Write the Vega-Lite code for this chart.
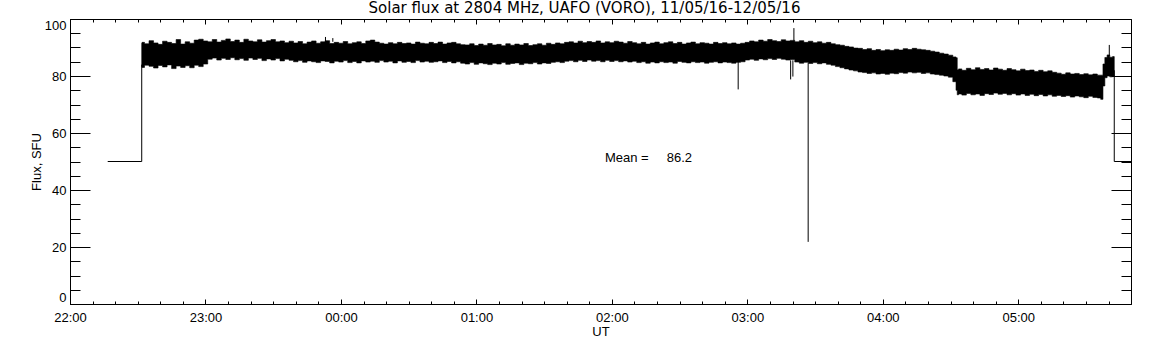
{
  "$schema": "https://vega.github.io/schema/vega-lite/v6.json",
  "width": 1061,
  "height": 285,
  "autosize": {"type": "none"},
  "padding": {"left": 70, "top": 19, "right": 21, "bottom": 41},
  "background": "white",
  "title": {"text": "Solar flux at 2804 MHz, UAFO (VORO),  11/05/16-12/05/16", "font": "DejaVu Sans", "fontSize": 15, "fontWeight": "normal", "color": "black", "baseline": "alphabetic", "offset": 5, "frame": "group", "dx": -16, "dy": 14.5},
  "config": {
    "view": {"stroke": "black", "strokeWidth": 1},
    "axis": {"domain": false, "grid": false, "tickColor": "black", "tickWidth": 1, "labelColor": "black", "titleColor": "black", "labelFont": "Liberation Sans", "labelFontSize": 13, "titleFont": "Liberation Sans", "titleFontSize": 13, "titleFontWeight": "normal", "labelOverlap": false}
  },
  "datasets": {
    "band": [
      {"t":"2016-05-11T22:31:46Z","hi":91.5,"lo":83.2},
      {"t":"2016-05-11T22:32:00Z","hi":91.8,"lo":83.0},
      {"t":"2016-05-11T22:34:00Z","hi":91.3,"lo":83.8},
      {"t":"2016-05-11T22:36:00Z","hi":92.4,"lo":83.4},
      {"t":"2016-05-11T22:38:00Z","hi":91.6,"lo":82.8},
      {"t":"2016-05-11T22:40:00Z","hi":91.1,"lo":83.7},
      {"t":"2016-05-11T22:42:00Z","hi":92.2,"lo":83.2},
      {"t":"2016-05-11T22:44:00Z","hi":91.8,"lo":83.9},
      {"t":"2016-05-11T22:46:00Z","hi":91.4,"lo":82.6},
      {"t":"2016-05-11T22:48:00Z","hi":92.8,"lo":83.5},
      {"t":"2016-05-11T22:50:00Z","hi":91.2,"lo":83.0},
      {"t":"2016-05-11T22:52:00Z","hi":92.0,"lo":83.6},
      {"t":"2016-05-11T22:54:00Z","hi":91.5,"lo":82.9},
      {"t":"2016-05-11T22:56:00Z","hi":92.6,"lo":83.8},
      {"t":"2016-05-11T22:58:00Z","hi":92.9,"lo":83.3},
      {"t":"2016-05-11T23:00:00Z","hi":92.3,"lo":84.2},
      {"t":"2016-05-11T23:02:00Z","hi":92.0,"lo":85.9},
      {"t":"2016-05-11T23:04:00Z","hi":92.8,"lo":86.3},
      {"t":"2016-05-11T23:06:00Z","hi":91.9,"lo":85.6},
      {"t":"2016-05-11T23:08:00Z","hi":92.5,"lo":86.2},
      {"t":"2016-05-11T23:10:00Z","hi":93.0,"lo":85.8},
      {"t":"2016-05-11T23:12:00Z","hi":92.1,"lo":86.4},
      {"t":"2016-05-11T23:14:00Z","hi":92.6,"lo":85.7},
      {"t":"2016-05-11T23:16:00Z","hi":91.8,"lo":86.1},
      {"t":"2016-05-11T23:18:00Z","hi":92.9,"lo":85.5},
      {"t":"2016-05-11T23:20:00Z","hi":92.3,"lo":86.3},
      {"t":"2016-05-11T23:22:00Z","hi":92.0,"lo":85.8},
      {"t":"2016-05-11T23:24:00Z","hi":92.7,"lo":86.2},
      {"t":"2016-05-11T23:26:00Z","hi":91.9,"lo":85.4},
      {"t":"2016-05-11T23:28:00Z","hi":92.4,"lo":86.0},
      {"t":"2016-05-11T23:30:00Z","hi":92.8,"lo":85.6},
      {"t":"2016-05-11T23:32:00Z","hi":92.0,"lo":86.1},
      {"t":"2016-05-11T23:34:00Z","hi":92.3,"lo":85.3},
      {"t":"2016-05-11T23:36:00Z","hi":91.7,"lo":85.9},
      {"t":"2016-05-11T23:38:00Z","hi":92.2,"lo":85.5},
      {"t":"2016-05-11T23:40:00Z","hi":91.6,"lo":85.0},
      {"t":"2016-05-11T23:42:00Z","hi":92.1,"lo":85.4},
      {"t":"2016-05-11T23:44:00Z","hi":91.3,"lo":84.8},
      {"t":"2016-05-11T23:46:00Z","hi":91.9,"lo":85.3},
      {"t":"2016-05-11T23:48:00Z","hi":92.3,"lo":85.0},
      {"t":"2016-05-11T23:50:00Z","hi":91.5,"lo":84.7},
      {"t":"2016-05-11T23:52:00Z","hi":92.0,"lo":85.3},
      {"t":"2016-05-11T23:54:00Z","hi":92.4,"lo":85.1},
      {"t":"2016-05-11T23:56:00Z","hi":91.4,"lo":84.6},
      {"t":"2016-05-11T23:58:00Z","hi":91.8,"lo":85.2},
      {"t":"2016-05-12T00:00:00Z","hi":91.5,"lo":84.9},
      {"t":"2016-05-12T00:02:00Z","hi":92.1,"lo":85.4},
      {"t":"2016-05-12T00:04:00Z","hi":91.3,"lo":84.7},
      {"t":"2016-05-12T00:06:00Z","hi":91.7,"lo":85.1},
      {"t":"2016-05-12T00:08:00Z","hi":92.0,"lo":84.6},
      {"t":"2016-05-12T00:10:00Z","hi":91.4,"lo":85.3},
      {"t":"2016-05-12T00:12:00Z","hi":92.3,"lo":84.9},
      {"t":"2016-05-12T00:14:00Z","hi":92.6,"lo":85.2},
      {"t":"2016-05-12T00:16:00Z","hi":91.9,"lo":84.8},
      {"t":"2016-05-12T00:18:00Z","hi":91.5,"lo":85.4},
      {"t":"2016-05-12T00:20:00Z","hi":91.2,"lo":84.9},
      {"t":"2016-05-12T00:22:00Z","hi":91.7,"lo":85.2},
      {"t":"2016-05-12T00:24:00Z","hi":91.3,"lo":84.6},
      {"t":"2016-05-12T00:26:00Z","hi":91.8,"lo":85.3},
      {"t":"2016-05-12T00:28:00Z","hi":91.4,"lo":84.8},
      {"t":"2016-05-12T00:30:00Z","hi":91.6,"lo":85.1},
      {"t":"2016-05-12T00:32:00Z","hi":91.2,"lo":84.7},
      {"t":"2016-05-12T00:34:00Z","hi":91.9,"lo":85.4},
      {"t":"2016-05-12T00:36:00Z","hi":91.5,"lo":84.9},
      {"t":"2016-05-12T00:38:00Z","hi":91.3,"lo":85.2},
      {"t":"2016-05-12T00:40:00Z","hi":91.8,"lo":84.8},
      {"t":"2016-05-12T00:42:00Z","hi":91.4,"lo":85.0},
      {"t":"2016-05-12T00:44:00Z","hi":91.9,"lo":85.3},
      {"t":"2016-05-12T00:46:00Z","hi":91.2,"lo":84.7},
      {"t":"2016-05-12T00:48:00Z","hi":91.6,"lo":85.1},
      {"t":"2016-05-12T00:50:00Z","hi":91.8,"lo":84.6},
      {"t":"2016-05-12T00:52:00Z","hi":91.3,"lo":85.0},
      {"t":"2016-05-12T00:54:00Z","hi":91.0,"lo":84.5},
      {"t":"2016-05-12T00:56:00Z","hi":90.9,"lo":84.2},
      {"t":"2016-05-12T00:58:00Z","hi":91.3,"lo":84.7},
      {"t":"2016-05-12T01:00:00Z","hi":90.7,"lo":84.1},
      {"t":"2016-05-12T01:02:00Z","hi":91.2,"lo":84.6},
      {"t":"2016-05-12T01:04:00Z","hi":90.8,"lo":84.3},
      {"t":"2016-05-12T01:06:00Z","hi":91.4,"lo":84.0},
      {"t":"2016-05-12T01:08:00Z","hi":90.9,"lo":84.5},
      {"t":"2016-05-12T01:10:00Z","hi":91.1,"lo":84.2},
      {"t":"2016-05-12T01:12:00Z","hi":90.6,"lo":84.7},
      {"t":"2016-05-12T01:14:00Z","hi":91.3,"lo":84.1},
      {"t":"2016-05-12T01:16:00Z","hi":90.8,"lo":84.4},
      {"t":"2016-05-12T01:18:00Z","hi":91.2,"lo":84.6},
      {"t":"2016-05-12T01:20:00Z","hi":90.9,"lo":84.0},
      {"t":"2016-05-12T01:22:00Z","hi":91.4,"lo":84.5},
      {"t":"2016-05-12T01:24:00Z","hi":90.7,"lo":84.3},
      {"t":"2016-05-12T01:26:00Z","hi":91.0,"lo":84.7},
      {"t":"2016-05-12T01:28:00Z","hi":91.3,"lo":84.2},
      {"t":"2016-05-12T01:30:00Z","hi":90.8,"lo":84.6},
      {"t":"2016-05-12T01:32:00Z","hi":91.5,"lo":84.4},
      {"t":"2016-05-12T01:34:00Z","hi":91.1,"lo":84.8},
      {"t":"2016-05-12T01:36:00Z","hi":91.6,"lo":85.0},
      {"t":"2016-05-12T01:38:00Z","hi":91.3,"lo":84.7},
      {"t":"2016-05-12T01:40:00Z","hi":91.8,"lo":85.2},
      {"t":"2016-05-12T01:42:00Z","hi":92.0,"lo":85.4},
      {"t":"2016-05-12T01:44:00Z","hi":91.6,"lo":85.0},
      {"t":"2016-05-12T01:46:00Z","hi":92.2,"lo":85.5},
      {"t":"2016-05-12T01:48:00Z","hi":91.7,"lo":85.1},
      {"t":"2016-05-12T01:50:00Z","hi":92.1,"lo":85.6},
      {"t":"2016-05-12T01:52:00Z","hi":91.8,"lo":85.2},
      {"t":"2016-05-12T01:54:00Z","hi":92.3,"lo":85.4},
      {"t":"2016-05-12T01:56:00Z","hi":91.6,"lo":85.0},
      {"t":"2016-05-12T01:58:00Z","hi":92.0,"lo":85.5},
      {"t":"2016-05-12T02:00:00Z","hi":91.7,"lo":85.1},
      {"t":"2016-05-12T02:02:00Z","hi":92.2,"lo":85.4},
      {"t":"2016-05-12T02:04:00Z","hi":91.9,"lo":85.0},
      {"t":"2016-05-12T02:06:00Z","hi":91.5,"lo":85.3},
      {"t":"2016-05-12T02:08:00Z","hi":92.1,"lo":84.9},
      {"t":"2016-05-12T02:10:00Z","hi":91.7,"lo":85.2},
      {"t":"2016-05-12T02:12:00Z","hi":91.3,"lo":84.7},
      {"t":"2016-05-12T02:14:00Z","hi":91.8,"lo":85.0},
      {"t":"2016-05-12T02:16:00Z","hi":91.2,"lo":84.5},
      {"t":"2016-05-12T02:18:00Z","hi":91.6,"lo":84.9},
      {"t":"2016-05-12T02:20:00Z","hi":91.9,"lo":84.6},
      {"t":"2016-05-12T02:22:00Z","hi":91.3,"lo":85.0},
      {"t":"2016-05-12T02:24:00Z","hi":91.7,"lo":84.7},
      {"t":"2016-05-12T02:26:00Z","hi":92.0,"lo":84.9},
      {"t":"2016-05-12T02:28:00Z","hi":91.4,"lo":84.5},
      {"t":"2016-05-12T02:30:00Z","hi":91.8,"lo":85.1},
      {"t":"2016-05-12T02:32:00Z","hi":91.2,"lo":84.8},
      {"t":"2016-05-12T02:34:00Z","hi":91.6,"lo":84.6},
      {"t":"2016-05-12T02:36:00Z","hi":91.9,"lo":85.0},
      {"t":"2016-05-12T02:38:00Z","hi":91.3,"lo":84.7},
      {"t":"2016-05-12T02:40:00Z","hi":91.7,"lo":84.9},
      {"t":"2016-05-12T02:42:00Z","hi":91.5,"lo":84.5},
      {"t":"2016-05-12T02:44:00Z","hi":91.2,"lo":84.8},
      {"t":"2016-05-12T02:46:00Z","hi":91.8,"lo":85.0},
      {"t":"2016-05-12T02:48:00Z","hi":91.4,"lo":84.6},
      {"t":"2016-05-12T02:50:00Z","hi":91.7,"lo":84.9},
      {"t":"2016-05-12T02:52:00Z","hi":91.3,"lo":84.7},
      {"t":"2016-05-12T02:54:00Z","hi":91.6,"lo":84.5},
      {"t":"2016-05-12T02:56:00Z","hi":91.2,"lo":84.8},
      {"t":"2016-05-12T02:58:00Z","hi":91.5,"lo":85.0},
      {"t":"2016-05-12T03:00:00Z","hi":91.8,"lo":85.6},
      {"t":"2016-05-12T03:02:00Z","hi":92.3,"lo":85.9},
      {"t":"2016-05-12T03:04:00Z","hi":92.0,"lo":85.5},
      {"t":"2016-05-12T03:06:00Z","hi":92.6,"lo":86.0},
      {"t":"2016-05-12T03:08:00Z","hi":92.2,"lo":85.7},
      {"t":"2016-05-12T03:10:00Z","hi":92.8,"lo":86.1},
      {"t":"2016-05-12T03:12:00Z","hi":92.4,"lo":85.8},
      {"t":"2016-05-12T03:14:00Z","hi":92.1,"lo":86.2},
      {"t":"2016-05-12T03:16:00Z","hi":92.7,"lo":85.9},
      {"t":"2016-05-12T03:18:00Z","hi":92.3,"lo":85.6},
      {"t":"2016-05-12T03:20:00Z","hi":92.5,"lo":85.8},
      {"t":"2016-05-12T03:22:00Z","hi":92.0,"lo":84.9},
      {"t":"2016-05-12T03:24:00Z","hi":92.4,"lo":84.5},
      {"t":"2016-05-12T03:26:00Z","hi":91.8,"lo":84.8},
      {"t":"2016-05-12T03:28:00Z","hi":92.2,"lo":84.4},
      {"t":"2016-05-12T03:30:00Z","hi":91.7,"lo":84.7},
      {"t":"2016-05-12T03:32:00Z","hi":92.0,"lo":84.3},
      {"t":"2016-05-12T03:34:00Z","hi":91.5,"lo":84.6},
      {"t":"2016-05-12T03:36:00Z","hi":91.8,"lo":84.1},
      {"t":"2016-05-12T03:38:00Z","hi":91.3,"lo":83.8},
      {"t":"2016-05-12T03:40:00Z","hi":91.0,"lo":83.3},
      {"t":"2016-05-12T03:42:00Z","hi":90.8,"lo":82.9},
      {"t":"2016-05-12T03:44:00Z","hi":90.4,"lo":82.5},
      {"t":"2016-05-12T03:46:00Z","hi":90.2,"lo":82.1},
      {"t":"2016-05-12T03:48:00Z","hi":89.8,"lo":81.8},
      {"t":"2016-05-12T03:50:00Z","hi":89.7,"lo":81.4},
      {"t":"2016-05-12T03:52:00Z","hi":89.3,"lo":81.2},
      {"t":"2016-05-12T03:54:00Z","hi":89.6,"lo":80.9},
      {"t":"2016-05-12T03:56:00Z","hi":89.0,"lo":81.1},
      {"t":"2016-05-12T03:58:00Z","hi":89.3,"lo":80.7},
      {"t":"2016-05-12T04:00:00Z","hi":88.9,"lo":80.9},
      {"t":"2016-05-12T04:02:00Z","hi":89.2,"lo":80.6},
      {"t":"2016-05-12T04:04:00Z","hi":89.0,"lo":81.0},
      {"t":"2016-05-12T04:06:00Z","hi":89.4,"lo":80.8},
      {"t":"2016-05-12T04:08:00Z","hi":89.1,"lo":81.2},
      {"t":"2016-05-12T04:10:00Z","hi":89.6,"lo":81.0},
      {"t":"2016-05-12T04:12:00Z","hi":89.3,"lo":81.4},
      {"t":"2016-05-12T04:14:00Z","hi":89.7,"lo":81.1},
      {"t":"2016-05-12T04:16:00Z","hi":89.4,"lo":81.3},
      {"t":"2016-05-12T04:18:00Z","hi":89.2,"lo":80.9},
      {"t":"2016-05-12T04:20:00Z","hi":89.0,"lo":81.1},
      {"t":"2016-05-12T04:22:00Z","hi":88.7,"lo":80.7},
      {"t":"2016-05-12T04:24:00Z","hi":88.4,"lo":80.5},
      {"t":"2016-05-12T04:26:00Z","hi":88.0,"lo":80.3},
      {"t":"2016-05-12T04:28:00Z","hi":87.7,"lo":80.0},
      {"t":"2016-05-12T04:30:00Z","hi":87.3,"lo":79.6},
      {"t":"2016-05-12T04:32:00Z","hi":86.7,"lo":78.0},
      {"t":"2016-05-12T04:32:50Z","hi":86.4,"lo":75.0},
      {"t":"2016-05-12T04:33:05Z","hi":82.2,"lo":73.4},
      {"t":"2016-05-12T04:34:00Z","hi":82.5,"lo":73.7},
      {"t":"2016-05-12T04:36:00Z","hi":82.0,"lo":73.3},
      {"t":"2016-05-12T04:38:00Z","hi":82.7,"lo":73.9},
      {"t":"2016-05-12T04:40:00Z","hi":82.2,"lo":73.4},
      {"t":"2016-05-12T04:42:00Z","hi":82.9,"lo":73.7},
      {"t":"2016-05-12T04:44:00Z","hi":82.3,"lo":73.2},
      {"t":"2016-05-12T04:46:00Z","hi":82.6,"lo":73.8},
      {"t":"2016-05-12T04:48:00Z","hi":82.1,"lo":73.5},
      {"t":"2016-05-12T04:50:00Z","hi":82.8,"lo":74.0},
      {"t":"2016-05-12T04:52:00Z","hi":82.4,"lo":73.6},
      {"t":"2016-05-12T04:54:00Z","hi":82.0,"lo":73.9},
      {"t":"2016-05-12T04:56:00Z","hi":82.6,"lo":73.4},
      {"t":"2016-05-12T04:58:00Z","hi":82.2,"lo":73.8},
      {"t":"2016-05-12T05:00:00Z","hi":81.8,"lo":73.3},
      {"t":"2016-05-12T05:02:00Z","hi":82.4,"lo":73.7},
      {"t":"2016-05-12T05:04:00Z","hi":81.9,"lo":73.2},
      {"t":"2016-05-12T05:06:00Z","hi":82.1,"lo":73.6},
      {"t":"2016-05-12T05:08:00Z","hi":81.6,"lo":73.1},
      {"t":"2016-05-12T05:10:00Z","hi":82.0,"lo":73.5},
      {"t":"2016-05-12T05:12:00Z","hi":81.5,"lo":73.0},
      {"t":"2016-05-12T05:14:00Z","hi":81.8,"lo":73.4},
      {"t":"2016-05-12T05:16:00Z","hi":81.3,"lo":72.9},
      {"t":"2016-05-12T05:18:00Z","hi":81.0,"lo":73.2},
      {"t":"2016-05-12T05:20:00Z","hi":80.6,"lo":72.8},
      {"t":"2016-05-12T05:22:00Z","hi":81.1,"lo":73.1},
      {"t":"2016-05-12T05:24:00Z","hi":80.7,"lo":72.6},
      {"t":"2016-05-12T05:26:00Z","hi":80.9,"lo":73.0},
      {"t":"2016-05-12T05:28:00Z","hi":80.5,"lo":72.7},
      {"t":"2016-05-12T05:30:00Z","hi":80.8,"lo":72.4},
      {"t":"2016-05-12T05:32:00Z","hi":80.4,"lo":72.9},
      {"t":"2016-05-12T05:34:00Z","hi":80.7,"lo":72.5},
      {"t":"2016-05-12T05:36:00Z","hi":80.3,"lo":72.3},
      {"t":"2016-05-12T05:37:00Z","hi":80.3,"lo":71.8},
      {"t":"2016-05-12T05:38:00Z","hi":84.2,"lo":76.5},
      {"t":"2016-05-12T05:38:40Z","hi":86.5,"lo":79.4},
      {"t":"2016-05-12T05:40:00Z","hi":87.4,"lo":80.0},
      {"t":"2016-05-12T05:41:00Z","hi":86.6,"lo":79.7},
      {"t":"2016-05-12T05:42:30Z","hi":86.8,"lo":80.0}
    ],
    "trace": [
      {"seg":"a","i":0,"t":"2016-05-11T22:16:42Z","v":50},
      {"seg":"a","i":1,"t":"2016-05-11T22:31:46Z","v":50},
      {"seg":"a","i":2,"t":"2016-05-11T22:31:46Z","v":84},
      {"seg":"b","i":0,"t":"2016-05-12T05:42:30Z","v":82},
      {"seg":"b","i":1,"t":"2016-05-12T05:42:30Z","v":50},
      {"seg":"b","i":2,"t":"2016-05-12T05:49:55Z","v":50}
    ],
    "spikes": [
      {"t":"2016-05-11T23:53:09Z","a":92,"b":93.7},
      {"t":"2016-05-11T23:56:24Z","a":92,"b":93.3},
      {"t":"2016-05-12T02:55:56Z","a":85,"b":75.3},
      {"t":"2016-05-12T03:19:10Z","a":85.5,"b":78.8},
      {"t":"2016-05-12T03:20:10Z","a":85.5,"b":79.8},
      {"t":"2016-05-12T03:20:37Z","a":92,"b":96.8},
      {"t":"2016-05-12T03:26:56Z","a":84.5,"b":21.8},
      {"t":"2016-05-12T05:40:18Z","a":87,"b":90.9}
    ],
    "note": [
      {"t":"2016-05-12T01:56:54Z","v":51.2,"label":"Mean =\u00a0\u00a0\u00a0\u00a0\u00a086.2"}
    ]
  },
  "resolve": {"axis": {"x": "independent", "y": "independent"}},
  "layer": [
    {
      "data": {"name": "band"},
      "mark": {"type": "area", "interpolate": "step", "color": "black", "stroke": "black", "strokeWidth": 0.6},
      "encoding": {
        "x": {"field": "t", "type": "temporal",
          "scale": {"type": "utc", "domain": [1463004000000, 1463032195000]},
          "axis": {"orient": "bottom", "values": [1463004000000, 1463007600000, 1463011200000, 1463014800000, 1463018400000, 1463022000000, 1463025600000, 1463029200000], "labelExpr": "utcFormat(datum.value, '%H:%M')", "offset": -5, "tickSize": 5, "labelPadding": 7, "labelFlush": false, "title": "UT", "titlePadding": 1}},
        "y": {"field": "lo", "type": "quantitative", "scale": {"domain": [0, 100], "nice": false},
          "axis": {"orient": "left", "values": [0, 20, 40, 60, 80, 100], "offset": -20, "tickSize": 20, "labelPadding": 4, "labelFlush": true, "title": "Flux, SFU", "titlePadding": 1}},
        "y2": {"field": "hi"}
      }
    },
    {
      "data": {"name": "trace"},
      "mark": {"type": "line", "color": "black", "strokeWidth": 1},
      "encoding": {
        "x": {"field": "t", "type": "temporal",
          "axis": {"orient": "bottom", "values": [1463004000000,1463004600000,1463005200000,1463005800000,1463006400000,1463007000000,1463007600000,1463008200000,1463008800000,1463009400000,1463010000000,1463010600000,1463011200000,1463011800000,1463012400000,1463013000000,1463013600000,1463014200000,1463014800000,1463015400000,1463016000000,1463016600000,1463017200000,1463017800000,1463018400000,1463019000000,1463019600000,1463020200000,1463020800000,1463021400000,1463022000000,1463022600000,1463023200000,1463023800000,1463024400000,1463025000000,1463025600000,1463026200000,1463026800000,1463027400000,1463028000000,1463028600000,1463029200000,1463029800000,1463030400000,1463031000000,1463031600000], "offset": -3, "tickSize": 3, "labels": false, "title": null}},
        "y": {"field": "v", "type": "quantitative",
          "axis": {"orient": "left", "values": [0,5,10,15,20,25,30,35,40,45,50,55,60,65,70,75,80,85,90,95,100], "offset": -10, "tickSize": 10, "labels": false, "title": null}},
        "detail": {"field": "seg"},
        "order": {"field": "i"}
      }
    },
    {
      "data": {"name": "spikes"},
      "mark": {"type": "rule", "color": "black", "strokeWidth": 1},
      "encoding": {
        "x": {"field": "t", "type": "temporal",
          "axis": {"orient": "top", "values": [1463004000000, 1463007600000, 1463011200000, 1463014800000, 1463018400000, 1463022000000, 1463025600000, 1463029200000], "offset": -5, "tickSize": 5, "labels": false, "title": null}},
        "y": {"field": "a", "type": "quantitative",
          "axis": {"orient": "right", "values": [0, 20, 40, 60, 80, 100], "offset": -20, "tickSize": 20, "labels": false, "title": null}},
        "y2": {"field": "b"}
      }
    },
    {
      "data": {"name": "note"},
      "mark": {"type": "text", "align": "left", "baseline": "middle", "font": "Liberation Sans", "fontSize": 13, "color": "black"},
      "encoding": {
        "x": {"field": "t", "type": "temporal",
          "axis": {"orient": "top", "values": [1463004000000,1463004600000,1463005200000,1463005800000,1463006400000,1463007000000,1463007600000,1463008200000,1463008800000,1463009400000,1463010000000,1463010600000,1463011200000,1463011800000,1463012400000,1463013000000,1463013600000,1463014200000,1463014800000,1463015400000,1463016000000,1463016600000,1463017200000,1463017800000,1463018400000,1463019000000,1463019600000,1463020200000,1463020800000,1463021400000,1463022000000,1463022600000,1463023200000,1463023800000,1463024400000,1463025000000,1463025600000,1463026200000,1463026800000,1463027400000,1463028000000,1463028600000,1463029200000,1463029800000,1463030400000,1463031000000,1463031600000], "offset": -3, "tickSize": 3, "labels": false, "title": null}},
        "y": {"field": "v", "type": "quantitative",
          "axis": {"orient": "right", "values": [0,5,10,15,20,25,30,35,40,45,50,55,60,65,70,75,80,85,90,95,100], "offset": -10, "tickSize": 10, "labels": false, "title": null}},
        "text": {"field": "label"}
      }
    }
  ]
}
